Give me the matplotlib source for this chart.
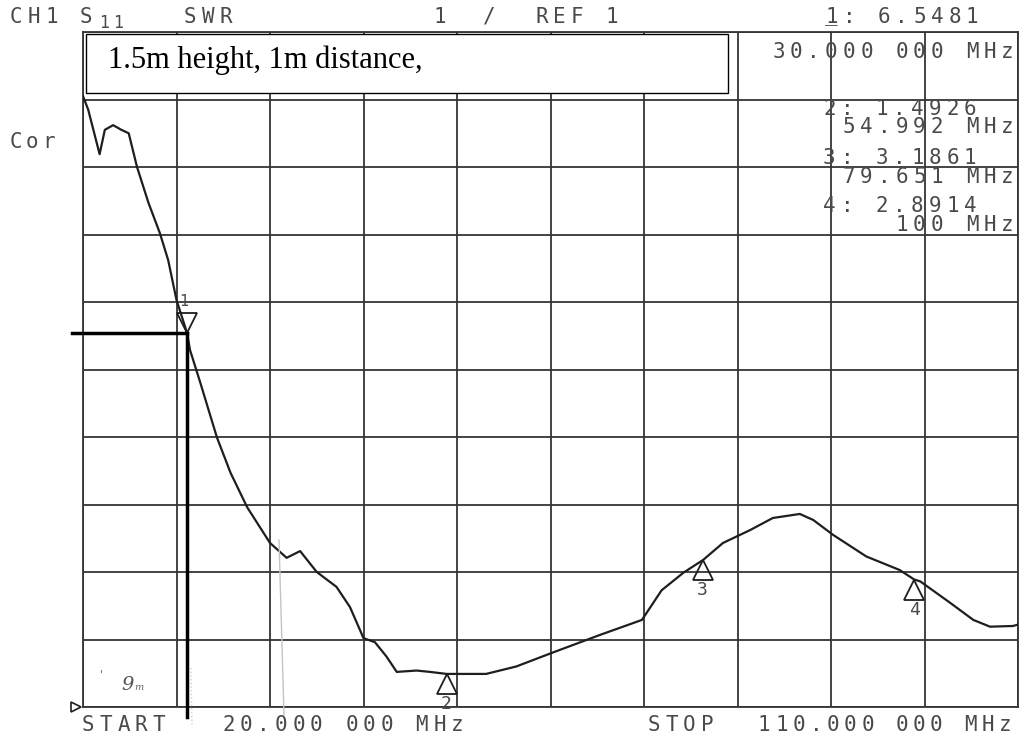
import numpy as np
import matplotlib.pyplot as plt
from matplotlib.patches import Rectangle
from matplotlib.lines import Line2D
from matplotlib.transforms import offset_copy

W, H = 1021, 740

# trace (MHz, SWR)
freq_mhz = [20.0, 20.5, 21.0, 21.6, 22.1, 22.9, 23.7, 24.4, 25.2, 26.3, 27.4, 28.2,
            29.0, 30.0, 30.3, 31.3, 32.9, 34.2, 35.8, 38.0, 39.6, 40.9, 42.5, 44.4,
            45.7, 47.0, 48.1, 49.2, 50.2, 52.1, 53.4, 55.0, 57.0, 58.8, 61.7, 65.1,
            69.8, 73.8, 75.7, 77.8, 79.7, 81.6, 84.2, 86.4, 89.0, 90.3, 92.2, 95.4,
            98.6, 100.0, 100.6, 103.5, 105.7, 107.3, 109.5, 110.0]
swr = [10.05, 9.85, 9.55, 9.19, 9.55, 9.62, 9.55, 9.50, 9.00, 8.47, 8.02, 7.62,
       7.03, 6.55, 6.29, 5.80, 4.99, 4.47, 3.96, 3.43, 3.21, 3.31, 3.00, 2.78,
       2.48, 2.02, 1.96, 1.75, 1.52, 1.54, 1.52, 1.49, 1.49, 1.49, 1.60, 1.80,
       2.07, 2.29, 2.73, 2.99, 3.18, 3.43, 3.62, 3.80, 3.86, 3.77, 3.55, 3.23,
       3.03, 2.89, 2.86, 2.54, 2.29, 2.19, 2.20, 2.22]

marker_ids = ['1', '2', '3', '4']
marker_freq = [30.0, 54.992, 79.651, 100.0]
marker_swr = [6.5481, 1.4926, 3.1861, 2.8914]

start_mhz, stop_mhz = 20.0, 110.0
ref_swr, per_div = 1.0, 1.0

GRID = '#353535'
INK = '#1e1e1e'
TXT = '#4a4a4a'
PITCH = 17.6

fig = plt.figure(figsize=(W / 100, H / 100), dpi=100)
ax = fig.add_axes([83 / W, 1 - 707 / H, (1018 - 83) / W, (707 - 32) / H])
ax.set_xlim(start_mhz, stop_mhz)
ax.set_ylim(ref_swr, ref_swr + 10 * per_div)
ax.set_xticks(np.linspace(start_mhz, stop_mhz, 11))
ax.set_yticks(ref_swr + per_div * np.arange(11))
ax.tick_params(length=0, labelbottom=False, labelleft=False)
ax.grid(True, color=GRID, lw=1.3)
for sp in ax.spines.values():
    sp.set_color(GRID)
    sp.set_linewidth(1.3)

ax.plot(freq_mhz, swr, color=INK, lw=1.6, zorder=3)

# marker triangles, 1 points down from above, the others up from below
for lab, f, v in zip(marker_ids, marker_freq, marker_swr):
    if lab == '1':
        tr = offset_copy(ax.transData, fig=fig, y=7, units='points')
        ax.plot(f, v, marker='v', ms=14, mfc='none', mec=INK, mew=1.3,
                transform=tr, clip_on=False, zorder=4)
        ax.annotate(lab, (f, v), xytext=(-2, 22), textcoords='offset points',
                    ha='center', va='center', family='DejaVu Sans Mono',
                    fontsize=11, color=TXT, annotation_clip=False)
    else:
        tr = offset_copy(ax.transData, fig=fig, y=-7.5, units='points')
        ax.plot(f, v, marker='^', ms=15, mfc='none', mec=INK, mew=1.3,
                transform=tr, clip_on=False, zorder=4)
        ax.annotate(lab, (f, v), xytext=(0, -22), textcoords='offset points',
                    ha='center', va='center', family='DejaVu Sans Mono',
                    fontsize=13, color=TXT, annotation_clip=False)

# hand drawn reading lines for marker 1
m1f, m1v = marker_freq[0], marker_swr[0]
ax.plot([start_mhz - 1.06, m1f], [m1v, m1v], color='black', lw=2.5,
        clip_on=False, zorder=5)
ax.plot([m1f, m1f], [m1v, ref_swr - 0.15], color='black', lw=2.5,
        clip_on=False, zorder=5)

# reference position arrow
tr = offset_copy(ax.transData, fig=fig, x=-5, units='points')
ax.plot(start_mhz, ref_swr, marker='>', ms=7, mfc='white', mec=INK, mew=1.2,
        transform=tr, clip_on=False, zorder=4)


def plot_chars(x, y, s, size=15, pitch=PITCH, align='left'):
    # plotter font: one fixed cell per character
    if align == 'right':
        x = x - ((len(s) - 1) * pitch + 12)
    for i, c in enumerate(s):
        if c != ' ':
            fig.text((x + i * pitch) / W, 1 - y / H, c, ha='left', va='baseline',
                     family='DejaVu Sans Mono', fontsize=size, color=TXT)


# header line
plot_chars(10, 23, 'CH1')
plot_chars(80, 23, 'S')
plot_chars(99, 28, '11', size=12, pitch=14)
plot_chars(184, 23, 'SWR')
plot_chars(433, 23, '1')
plot_chars(483, 23, '/')
plot_chars(535, 23, 'REF 1')
plot_chars(825, 23, '1: 6.5481')
plot_chars(825, 21, '_')
plot_chars(10, 148, 'Cor', pitch=16)

# marker readouts
plot_chars(1013, 58, '30.000 000 MHz', align='right')
plot_chars(823, 115, '2: 1.4926')
plot_chars(1013, 133, '54.992 MHz', align='right')
plot_chars(823, 164, '3: 3.1861')
plot_chars(1013, 183, '79.651 MHz', align='right')
plot_chars(823, 212, '4: 2.8914')
plot_chars(1013, 231, '100 MHz', align='right')

# start / stop
plot_chars(82, 731, 'START')
plot_chars(222, 731, '20.000 000 MHz')
plot_chars(648, 731, 'STOP')
plot_chars(758, 731, '110.000 000 MHz', pitch=17.2)

# pasted caption box
fig.add_artist(Rectangle((86 / W, 1 - 93 / H), (728 - 86) / W, (93 - 34) / H,
                         transform=fig.transFigure, fc='white', ec='black',
                         lw=1.0, zorder=6))
fig.text(108 / W, 1 - 68 / H, '1.5m height, 1m distance,', family='Liberation Serif',
         fontsize=22, va='baseline', ha='left', color='black', zorder=7)

# pencil marks on the scan
fig.add_artist(Line2D([279 / W, 284 / W], [1 - 540 / H, 1 - 715 / H], color='#c4c4c4',
                      lw=1.0, zorder=2))
fig.add_artist(Line2D([191 / W, 192 / W], [1 - 668 / H, 1 - 727 / H], color='#cfcfcf',
                      lw=1.0, ls=':', zorder=2))
fig.text(121 / W, 1 - 690 / H, '9', family='DejaVu Serif', style='italic',
         fontsize=14, color='#555555')
fig.text(134 / W, 1 - 690 / H, 'm', family='DejaVu Serif', style='italic',
         fontsize=7, color='#666666')
fig.text(100 / W, 1 - 678 / H, "'", family='DejaVu Serif', fontsize=8, color='#666666')

fig.savefig('out.png', dpi=100)
